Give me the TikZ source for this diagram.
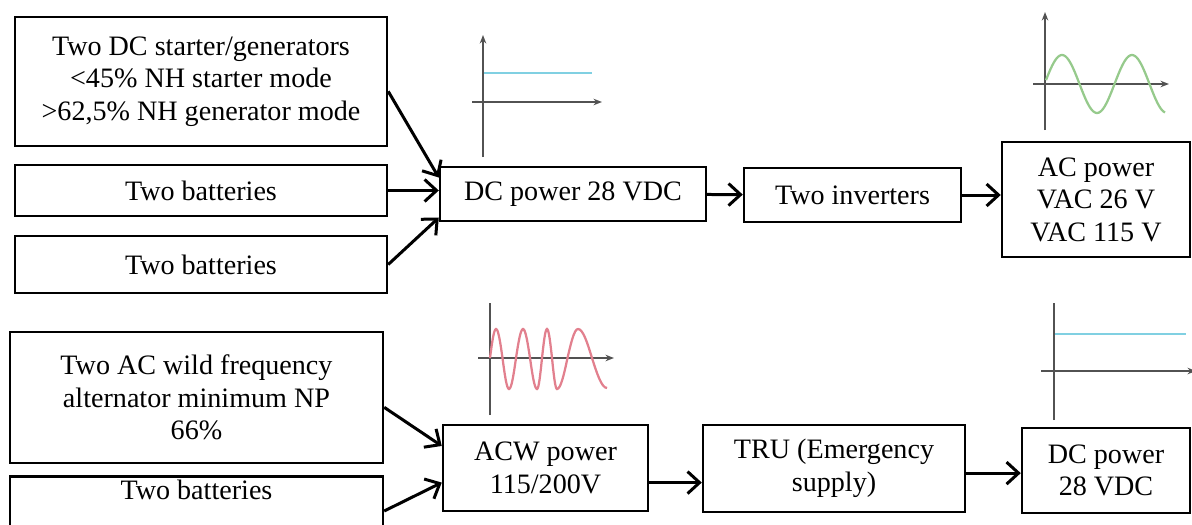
\documentclass[tikz,border=0pt]{standalone}
\usepackage{fontspec}
\setmainfont{Liberation Serif}
\usetikzlibrary{arrows.meta}

\definecolor{dccyan}{RGB}{128,208,226}
\definecolor{acgreen}{RGB}{150,202,140}
\definecolor{acwred}{RGB}{226,128,142}

\begin{document}
\begin{tikzpicture}[
    x=0.02cm, y=-0.02cm,
    font=\fontsize{16}{18.5}\selectfont,
    block/.style={rectangle,draw,line width=0.05cm,align=center,inner sep=2pt},
    arrow/.style={-{Straight Barb[length=0.24cm,width=0.44cm]},line width=0.06cm},
    axis/.style={draw=black!68,line width=0.03cm},
    axistip/.style={axis,-{Stealth[length=0.17cm,width=0.13cm]}},
    wave/.style={line width=0.045cm}
]
\useasboundingbox (0,0) rectangle (1192,524);

% DC network
\node[block,minimum width=7.44cm,minimum height=2.58cm] (gen) at (201,81.5)
    {Two DC starter/generators\\ <45\% NH starter mode\\ >62,5\% NH generator mode};
\node[block,minimum width=7.44cm,minimum height=1.02cm] (bat1) at (201,190.5) {Two batteries};
\node[block,minimum width=7.44cm,minimum height=1.14cm] (bat2) at (201,264.5) {Two batteries};
\node[block,minimum width=5.32cm,minimum height=1.08cm] (dc) at (573,194) {DC power 28 VDC};
\node[block,minimum width=4.34cm,minimum height=1.08cm] (inv) at (852.5,195) {Two inverters};
\node[block,minimum width=3.76cm,minimum height=2.3cm] (ac) at (1096,199.5) {AC power\\ VAC 26 V\\ VAC 115 V};

% ACW network
\node[block,minimum width=7.46cm,minimum height=2.62cm] (alt) at (196.5,397.5)
    {Two AC wild frequency\\ alternator minimum NP\\ 66\%};
\node[block,minimum width=7.46cm,minimum height=1.2cm] (bat3) at (196.5,511) {Two batteries\\ \strut};
\node[block,minimum width=4.1cm,minimum height=1.72cm] (acw) at (545.5,468) {ACW power\\ 115/200V};
\node[block,minimum width=5.24cm,minimum height=1.74cm] (tru) at (834,468.5) {TRU (Emergency\\ supply)};
\node[block,minimum width=3.36cm,minimum height=1.7cm] (dcb) at (1106,470.5) {DC power\\ 28 VDC};

\draw[arrow] (gen.-3) -- (dc.173);
\draw[arrow] (bat1.east) -- (bat1.east -| dc.west);
\draw[arrow] (bat2.east) -- (dc.190);
\draw[arrow] (dc) -- (inv);
\draw[arrow] (inv.east) -- (inv.east -| ac.west);
\draw[arrow] (alt.-3) -- (acw.168);
\draw[arrow] (bat3.east) -- (acw.188);
\draw[arrow] (acw.-8) -- (acw.-8 -| tru.west);
\draw[arrow] (tru.-2) -- (tru.-2 -| dcb.west);

% signal sketches
\draw[axistip] (483,157) -- (483,35);
\draw[axistip] (472,102) -- (602,102);
\draw[wave,dccyan] (484,73) -- (592,73);

\draw[axistip] (1045,130) -- (1045,12);
\draw[axistip] (1033,84) -- (1169,84);
\draw[wave,acgreen] plot[domain=1046:1165,samples=80] (\x,{84-29*sin((\x-1044.5)*5.142857)});

\draw[axis] (490,415) -- (490,303);
\draw[axistip] (478,358) -- (614,358);
\draw[wave,acwred] (490,358) sin (496,329) cos (502.5,358) sin (509,389) cos (516,358)
    sin (523,329) cos (530,358) sin (537,389) cos (542,358) sin (547,329) cos (552,358)
    sin (557,389) cos (567.5,358) sin (578,329) cos (592,358) sin (607,388);

\draw[axis] (1054,420) -- (1054,303);
\draw[axistip] (1041,371) -- (1196,371);
\draw[wave,dccyan] (1055,334) -- (1186,334);
\end{tikzpicture}
\end{document}
